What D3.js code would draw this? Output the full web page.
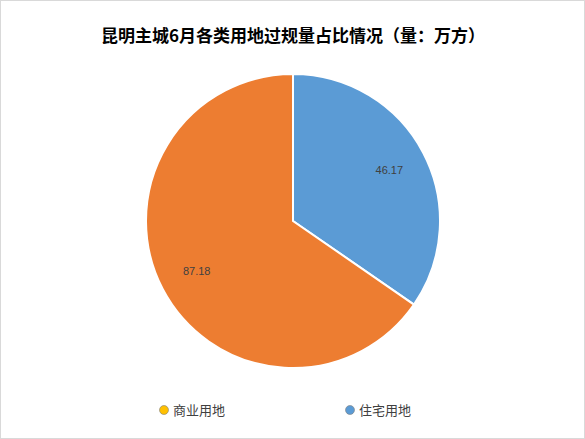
<!DOCTYPE html>
<html><head><meta charset="utf-8">
<script src="https://cdn.jsdelivr.net/npm/d3@7"></script>
<style>body{margin:0;background:#fff}</style>
</head><body><div id="vis"></div>
<script>
const categories = ["住宅用地", "商业用地"];
const values = [46.17, 87.18];
const sliceColors = ["#5b9bd5", "#ed7d31"];
const legendNames = ["商业用地", "住宅用地"];
const legendColors = ["#ffc000", "#5b9bd5"];

function createVisual() {
    const width = 585, height = 439;
    const svg = d3.select("#vis").append("svg")
        .attr("width", width).attr("height", height);
    svg.append("rect").attr("x", 0.5).attr("y", 0.5).attr("width", width - 1).attr("height", height - 1)
        .attr("fill", "#fff").attr("stroke", "#d9d9d9");

    svg.append("text").attr("x", 293).attr("y", 42).attr("text-anchor", "middle")
        .attr("font-family", "Noto Sans CJK SC").attr("font-weight", "bold").attr("font-size", 17)
        .text("昆明主城6月各类用地过规量占比情况（量：万方）");

    const r = 147;
    const g = svg.append("g").attr("transform", "translate(293,221)");
    const pie = d3.pie().sort(null)(values);
    const arc = d3.arc().innerRadius(0).outerRadius(r);
    const labelArc = d3.arc().innerRadius(r * 0.74).outerRadius(r * 0.74);
    g.selectAll("path").data(pie).join("path")
        .attr("d", arc).attr("fill", (d, i) => sliceColors[i])
        .attr("stroke", "#fff").attr("stroke-width", 2);
    g.selectAll("text").data(pie).join("text")
        .attr("transform", d => `translate(${labelArc.centroid(d)})`)
        .attr("text-anchor", "middle").attr("dy", "0.35em")
        .attr("font-family", "Liberation Sans").attr("font-size", 11).attr("fill", "#404040")
        .text(d => d.data.toFixed(2));

    const lg = svg.append("g");
    legendNames.forEach((n, i) => {
        const x = 164 + i * 186;
        lg.append("circle").attr("cx", x).attr("cy", 410).attr("r", 4.5)
            .attr("fill", legendColors[i]).attr("stroke", "#7f7f7f").attr("stroke-width", 0.6);
        lg.append("text").attr("x", x + 9).attr("y", 415)
            .attr("font-family", "Noto Sans CJK SC").attr("font-size", 13).attr("fill", "#404040").text(n);
    });
}
window.addEventListener("load", createVisual);
</script></body></html>
